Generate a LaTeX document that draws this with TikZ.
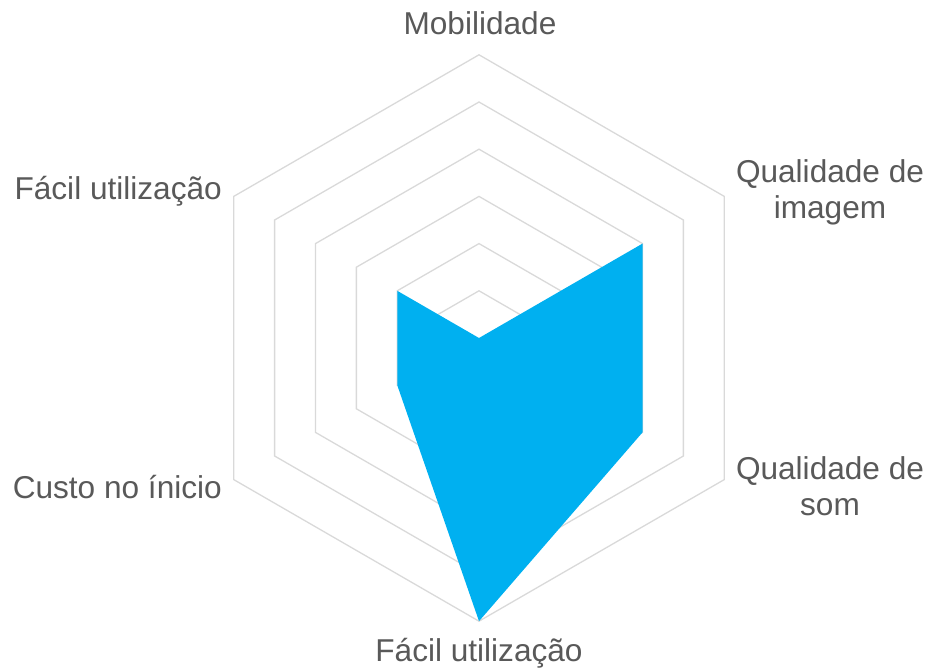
\documentclass[tikz,border=0pt]{standalone}
\usepackage{fontspec}
\setmainfont{Liberation Sans}
\usetikzlibrary{calc}
\definecolor{gridc}{HTML}{D9D9D9}
\definecolor{fillc}{HTML}{00B0F0}
\definecolor{textc}{HTML}{595959}
\begin{document}
\begin{tikzpicture}[x=1pt,y=1pt,
  gridline/.style={draw=gridc,line width=1.3pt,line join=miter},
  lbl/.style={text=textc,font=\fontsize{31.6}{36}\selectfont,inner sep=0pt,align=center}]
\useasboundingbox (0,0) rectangle (927,670);
\coordinate (O) at (479,332);
\def\st{47.2}
\foreach \k in {1,...,6}{
  \draw[gridline] ($(O)+(90:\k*\st)$) -- ($(O)+(30:\k*\st)$) -- ($(O)+(-30:\k*\st)$) -- ($(O)+(-90:\k*\st)$) -- ($(O)+(-150:\k*\st)$) -- ($(O)+(150:\k*\st)$) -- cycle;
}
\coordinate (d1) at (O);
\coordinate (d2) at ($(O)+(30:4*\st)$);
\coordinate (d3) at ($(O)+(-30:4*\st)$);
\coordinate (d4) at ($(O)+(-90:6*\st)$);
\coordinate (d5) at ($(O)+(-150:2*\st)$);
\coordinate (d6) at ($(O)+(150:2*\st)$);
\fill[fillc] (d1) -- (d2) -- (d3) -- (d4) -- (d5) -- (d6) -- cycle;
\node[lbl] (l1) at (480,647) {Mobilidade};
\node[lbl] (l2) at (830,478) {Qualidade de\\imagem};
\node[lbl] (l3) at (830,184) {Qualidade de\\som};
\node[lbl] (l4) at (479,17) {Fácil utilização};
\node[lbl,anchor=east] (l5) at (222,183) {Custo no ínicio};
\node[lbl,anchor=east] (l6) at (222,479) {Fácil utilização};
\end{tikzpicture}
\end{document}
